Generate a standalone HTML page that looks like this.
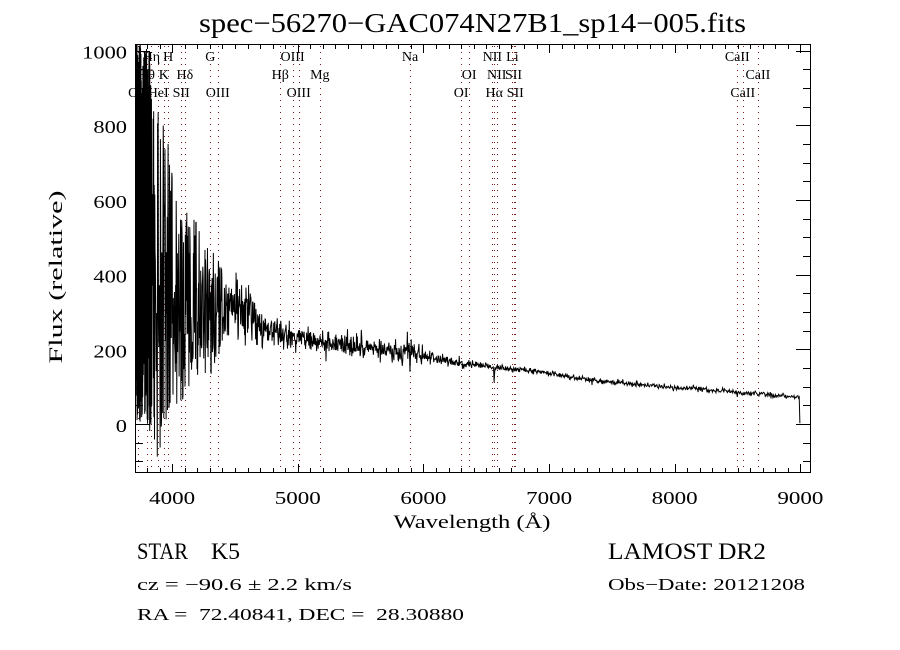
<!DOCTYPE html>
<html><head><meta charset="utf-8">
<style>
html,body{margin:0;padding:0;background:#fff;}
svg{display:block;}
text{font-family:"Liberation Serif",serif;fill:#000;}
.sans{font-family:"Liberation Sans",sans-serif;}
.pre{white-space:pre;}
</style></head><body>
<svg id="s" width="900" height="650" viewBox="0 0 900 650" xmlns="http://www.w3.org/2000/svg">
<defs><clipPath id="cp"><rect x="135" y="44" width="676" height="429"/></clipPath></defs>
<rect x="0" y="0" width="900" height="650" fill="#fff"/>
<g id="dots"></g>
<g id="labs"></g>
<polyline id="spec" clip-path="url(#cp)" fill="none" stroke="#000" stroke-width="1" stroke-linejoin="miter" points=""/>
<g id="ticks"></g>
<rect x="135.5" y="44.5" width="675" height="428" fill="none" stroke="#000" stroke-width="1"/>
<text x="472.5" y="32" font-size="27" text-anchor="middle" textLength="547" lengthAdjust="spacingAndGlyphs">spec−56270−GAC074N27B1_sp14−005.fits</text>
<g id="tl" class="sans"></g>
<text x="472" y="528" font-size="19" text-anchor="middle" textLength="157" lengthAdjust="spacingAndGlyphs">Wavelength (Å)</text>
<text transform="translate(62,277) rotate(-90)" font-size="19" text-anchor="middle" textLength="173" lengthAdjust="spacingAndGlyphs">Flux (relative)</text>
<text x="137" y="559" font-size="23" textLength="51" lengthAdjust="spacingAndGlyphs">STAR</text>
<text x="211" y="559" font-size="23" textLength="29" lengthAdjust="spacingAndGlyphs">K5</text>
<text x="608" y="559" font-size="23" textLength="158" lengthAdjust="spacingAndGlyphs">LAMOST DR2</text>
<text x="137" y="590" font-size="17" class="pre" textLength="215" lengthAdjust="spacingAndGlyphs">cz = −90.6 ± 2.2 km/s</text>
<text x="608" y="590" font-size="17" class="pre" textLength="197" lengthAdjust="spacingAndGlyphs">Obs−Date: 20121208</text>
<text x="137" y="620" font-size="17" class="pre" textLength="327" lengthAdjust="spacingAndGlyphs">RA =  72.40841, DEC =  28.30880</text>
</svg>
<script>
(function(){
var NS="http://www.w3.org/2000/svg";
function X(l){return 410+(l-5893)*0.12565;}
function Y(v){return 424-v*0.3735;}
function el(tag,attrs,parent,txt){var e=document.createElementNS(NS,tag);for(var k in attrs)e.setAttribute(k,attrs[k]);if(txt!==undefined)e.textContent=txt;parent.appendChild(e);return e;}
var tk=document.getElementById('ticks');
var d='';
for(var l=3800;l<=9000;l+=100){var x=Math.round(X(l))+0.5;var L=(l%1000===0)?8:4;d+='M'+x+' 472V'+(472-L)+'M'+x+' 45V'+(45+L);}
for(var v=-100;v<=1000;v+=50){var y=Math.round(Y(v))+0.5;var L2=(v%200===0)?14:7;d+='M136 '+y+'H'+(136+L2)+'M810 '+y+'H'+(810-L2);}
el('path',{d:d,stroke:'#000','stroke-width':1,fill:'none'},tk);
var tl=document.getElementById('tl');
for(var w=4000;w<=9000;w+=1000){el('text',{x:X(w).toFixed(1),y:504,'font-size':18,'text-anchor':'middle',textLength:46,lengthAdjust:'spacingAndGlyphs'},tl,String(w));}
for(var q=0;q<=1000;q+=200){var s=String(q);el('text',{x:127,y:(Y(q)+8).toFixed(1),'font-size':18,'text-anchor':'end',textLength:s.length*11.2,lengthAdjust:'spacingAndGlyphs'},tl,s);}
var rows=[
 [["Hη",3835],["H",3968.5],["G",4304],["OIII",4959],["Na",5893],["NII",6548],["Li",6708],["CaII",8498]],
 [["Hθ",3797],["K",3933.7],["Hδ",4101.7],["Hβ",4861],["Mg",5175],["OI",6364],["NII",6583],["SII",6717],["CaII",8662]],
 [["OII",3727],["HeI",3889],["SII",4072],["OIII",4363],["OIII",5007],["OI",6300],["Hα",6563],["SII",6731],["CaII",8542]]
];
var base=[61,79,97];
var dots=document.getElementById('dots'),labs=document.getElementById('labs');
var dd='';
for(var r=0;r<3;r++){for(var i=0;i<rows[r].length;i++){var it=rows[r][i];var xx=Math.round(X(it[1]))+0.5;dd+='M'+xx+' 46V472';
 el('text',{x:X(it[1]).toFixed(1),y:base[r],'font-size':14,'text-anchor':'middle'},labs,it[0]);}}
el('path',{d:dd,stroke:'#7a1a1a','stroke-width':1,'stroke-dasharray':'1 5',fill:'none'},dots);
function mulberry32(a){return function(){a|=0;a=a+0x6D2B79F5|0;var t=Math.imul(a^a>>>15,1|a);t=t+Math.imul(t^t>>>7,61|t)^t;return((t^t>>>14)>>>0)/4294967296;};}
var R=mulberry32(20121208);
function gauss(){var u=0;while(u===0)u=R();var v=R();return Math.sqrt(-2*Math.log(u))*Math.cos(2*Math.PI*v);}
function interp(tab,l){if(l<=tab[0][0])return tab[0][1];for(var i=1;i<tab.length;i++){if(l<=tab[i][0]){var a=tab[i-1],b=tab[i];return a[1]+(b[1]-a[1])*(l-a[0])/(b[0]-a[0]);}}return tab[tab.length-1][1];}
var mu=[[3704,530],[3820,500],[3850,400],[3900,360],[3960,390],[4000,340],[4100,320],[4200,330],[4300,300],[4400,310],[4500,320],[4600,305],[4700,270],[4800,250],[4900,240],[5000,232],[5200,220],[5500,205],[5800,195],[5900,200],[6000,182],[6200,168],[6400,158],[6600,150],[6800,145],[7000,135],[7400,115],[7800,103],[8200,93],[8600,82],[8990,72]];
var A=[[3704,520],[3820,520],[3850,500],[3900,470],[3960,380],[4050,280],[4150,230],[4300,175],[4400,110],[4450,80]];
var sg=[[4450,40],[4700,30],[4800,20],[5000,15],[5600,13],[5850,18],[5950,15],[6050,9],[6300,7],[6500,4],[9000,3]];
var pts=[];
var lam=3704;
while(lam<8994){
 var val;
 if(lam<4450){val=interp(mu,lam)+interp(A,lam)*(2*R()-1);}
 else{val=interp(mu,lam)+interp(sg,lam)*gauss();}
 val-=45*Math.exp(-Math.pow((lam-6563)/3,2));
 val-=10*Math.exp(-Math.pow((lam-8498)/3,2));
 val-=12*Math.exp(-Math.pow((lam-8542)/3,2));
 val-=10*Math.exp(-Math.pow((lam-8662)/3,2));
 val-=15*Math.exp(-Math.pow((lam-5893)/4,2));
 pts.push(X(lam).toFixed(2)+','+Y(val).toFixed(2));
 var st=(lam<3835)?0.00004:0.00025;
 lam*=Math.pow(10,st);
}
pts.push(X(8996).toFixed(2)+','+Y(2).toFixed(2));
document.getElementById('spec').setAttribute('points',pts.join(' '));
})();
</script>
</body></html>
